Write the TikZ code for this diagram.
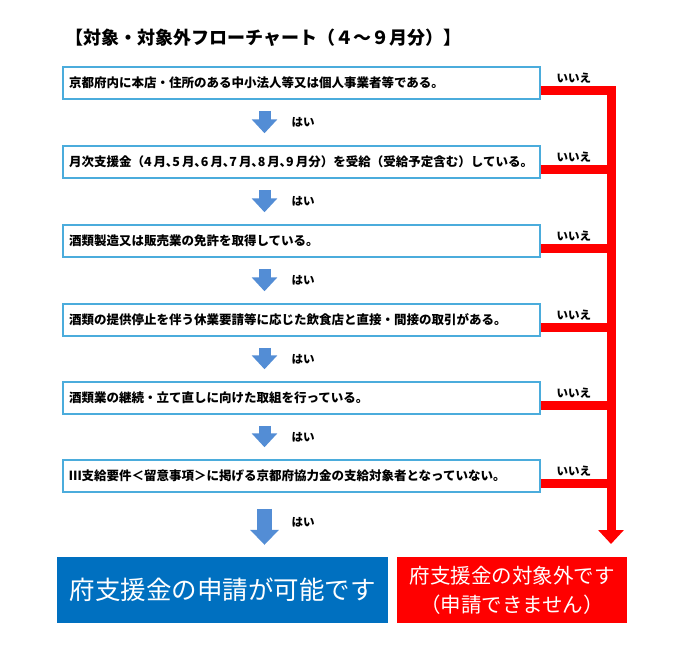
\documentclass[tikz,border=0pt]{standalone}
\usepackage{fontspec}
\newfontfamily\jp{Noto Sans CJK JP}
\usetikzlibrary{arrows.meta,calc}
\definecolor{boxline}{RGB}{75,172,220}
\definecolor{arrowblue}{RGB}{83,141,213}
\definecolor{okblue}{RGB}{0,112,192}
\definecolor{ngred}{RGB}{255,0,0}
\begin{document}
\begin{tikzpicture}[x=1pt,y=-1pt,
  qbox/.style={draw=boxline, line width=1.5pt, fill=white, minimum height=32pt,
    text width=465pt, inner xsep=6pt, inner ysep=0pt, align=left,
    font=\jp\bfseries\fontsize{12.5}{14}\selectfont},
  nolabel/.style={inner sep=0pt, font=\jp\bfseries\fontsize{11.5}{13}\selectfont},
  hai/.style={inner sep=0pt, anchor=west, font=\jp\bfseries\fontsize{11.5}{13}\selectfont},
  redline/.style={draw=ngred, line width=9pt, line join=miter},
  barrow/.style={draw=arrowblue, line width=12pt, -{Triangle[width=25pt,length=14pt]}},
  barrowbig/.style={draw=arrowblue, line width=15pt, -{Triangle[width=28pt,length=15pt]}},
  endbox/.style={minimum height=66pt, text=white, inner sep=0pt}
]
\fill[white] (0,0) rectangle (690,653);
\useasboundingbox (0,0) rectangle (690,653);

\node[anchor=west, inner sep=0pt, font=\jp\bfseries\fontsize{18}{20}\selectfont] (title) at (65,38)
  {【対象・対象外フローチャート（４～９月分）】};

\node[qbox] (q1) at (301.5,83) {京都府内に本店・住所のある中小法人等又は個人事業者等である。};
\node[qbox] (q2) at (301.5,162) {月次支援金（4\,月､5\,月､6\,月､7\,月､8\,月､9\,月分）を受給（受給予定含む）している。};
\node[qbox] (q3) at (301.5,241) {酒類製造又は販売業の免許を取得している。};
\node[qbox] (q4) at (301.5,320) {酒類の提供停止を伴う休業要請等に応じた飲食店と直接・間接の取引がある。};
\node[qbox] (q5) at (301.5,398) {酒類業の継続・立て直しに向けた取組を行っている。};
\node[qbox] (q6) at (301.5,476) {Ⅲ支給要件＜留意事項＞に掲げる京都府協力金の支給対象者となっていない。};

\node[endbox, fill=okblue, minimum width=331pt, font=\jp\fontsize{25.5}{30}\selectfont] (okbox) at (222.5,590)
  {府支援金の申請が可能です};
\node[endbox, fill=ngred, minimum width=230pt, align=center, font=\jp\fontsize{20.5}{29}\selectfont] (ngbox) at (512,590)
  {府支援金の対象外です\\（申請できません）};

\coordinate (ax) at (264.5,0);
\coordinate (rend) at (611,544);

% red "no" connectors
\draw[redline, -{Triangle[width=25pt,length=14pt]}] ($(q1.east)+(0,7)$) -| (rend);
\foreach \q in {q2,q3,q4,q5,q6}{
  \coordinate (r\q) at ($(\q.east)+(0,7)$);
  \draw[redline] (r\q) -- (r\q -| rend);
}
\foreach \q in {q1,q2,q3,q4,q5,q6}{
  \node[nolabel] (n\q) at ($(\q.east)+(33,-5)$) {いいえ};
}

% blue "yes" arrows
\draw[barrow] ($(q1.south -| ax)+(0,11)$) -- ($(q2.north -| ax)+(0,-12)$);
\draw[barrow] ($(q2.south -| ax)+(0,11)$) -- ($(q3.north -| ax)+(0,-12)$);
\draw[barrow] ($(q3.south -| ax)+(0,11)$) -- ($(q4.north -| ax)+(0,-12)$);
\draw[barrow] ($(q4.south -| ax)+(0,11)$) -- ($(q5.north -| ax)+(0,-12)$);
\draw[barrow] ($(q5.south -| ax)+(0,11)$) -- ($(q6.north -| ax)+(0,-12)$);
\draw[barrowbig] ($(q6.south -| ax)+(0,16)$) -- ($(okbox.north -| ax)+(0,-12)$);

\node[hai] (h1) at ($(q1.south -| ax)+(27,23)$) {はい};
\node[hai] (h2) at ($(q2.south -| ax)+(27,23)$) {はい};
\node[hai] (h3) at ($(q3.south -| ax)+(27,23)$) {はい};
\node[hai] (h4) at ($(q4.south -| ax)+(27,23)$) {はい};
\node[hai] (h5) at ($(q5.south -| ax)+(27,23)$) {はい};
\node[hai] (h6) at ($(q6.south -| ax)+(27,30)$) {はい};
\end{tikzpicture}
\end{document}
